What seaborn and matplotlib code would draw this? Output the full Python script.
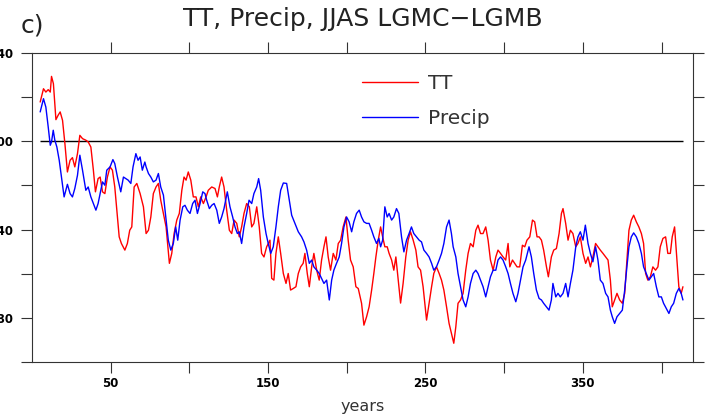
import matplotlib
matplotlib.use("Agg")
import matplotlib.pyplot as plt
import numpy as np
import pandas as pd
import seaborn as sns

# ---------------- data ----------------
years_tt = [5.2, 7.3, 8.8, 10.3, 11.6, 12.4, 13.6, 15.2, 16.6, 17.9,
            19.4, 20.9, 22.5, 24.2, 25.7, 27.2, 28.9, 30.4, 32.1, 34.2,
            35.7, 37.4, 39.0, 40.3, 42.0, 43.3, 44.8, 46.3, 47.9, 49.6,
            51.1, 52.6, 53.9, 55.4, 56.8, 59.0, 60.6, 62.1, 63.4, 64.9,
            66.6, 68.7, 70.8, 72.5, 74.0, 75.5, 77.1, 78.8, 80.3, 81.8,
            83.5, 85.2, 87.3, 88.8, 90.3, 92.0, 93.6, 95.2, 96.6, 97.9,
            99.3, 100.9, 102.5, 104.2, 105.7, 107.2, 108.9, 110.6, 112.0, 114.2,
            116.3, 117.8, 119.0, 120.5, 122.0, 123.7, 125.4, 126.9, 128.4, 130.1,
            131.7, 133.2, 134.7, 136.4, 138.1, 139.6, 141.0, 142.8, 144.4, 145.9,
            147.4, 149.1, 151.2, 152.3, 153.7, 155.0, 156.5, 158.0, 159.7, 161.4,
            162.8, 164.3, 166.0, 167.7, 169.2, 170.7, 172.3, 173.4, 174.9, 176.2,
            177.7, 179.1, 180.9, 182.5, 184.0, 185.5, 186.8, 188.2, 189.7, 191.4,
            193.1, 194.6, 196.1, 197.7, 199.5, 200.9, 202.4, 204.1, 205.8, 207.3,
            209.4, 210.9, 212.6, 214.2, 215.8, 217.2, 218.5, 220.0, 221.5, 222.8,
            224.2, 225.7, 226.9, 228.5, 229.9, 231.2, 232.7, 234.2, 235.8, 237.5,
            239.0, 240.5, 242.2, 243.9, 245.3, 246.9, 248.5, 250.7, 252.3, 253.9,
            255.3, 257.0, 258.7, 260.2, 261.7, 263.4, 265.0, 266.5, 268.0, 269.3,
            270.7, 272.3, 273.9, 275.6, 277.1, 278.6, 280.3, 282.0, 283.4, 285.0,
            286.6, 288.3, 289.8, 291.3, 293.0, 294.7, 296.1, 297.7, 299.3, 301.0,
            302.5, 303.6, 305.3, 306.7, 308.2, 309.9, 311.6, 313.1, 314.5, 316.3,
            318.0, 319.4, 320.9, 322.2, 323.7, 325.1, 326.9, 328.1, 330.0, 331.5,
            333.2, 334.9, 336.4, 337.4, 339.1, 340.6, 342.1, 343.7, 345.5, 346.9,
            348.4, 350.1, 351.8, 353.3, 354.8, 356.4, 358.1, 359.6, 361.1, 362.8,
            364.5, 366.0, 367.5, 368.7, 370.2, 371.7, 373.4, 375.1, 376.6, 378.0,
            379.3, 380.8, 382.3, 384.0, 385.6, 387.2, 388.6, 389.9, 391.3, 392.9,
            394.5, 396.2, 397.7, 399.2, 400.9, 402.6, 404.0, 405.6, 406.8, 408.3,
            409.8, 411.0, 412.5, 413.6]
tt = [0.178, 0.238, 0.223, 0.234, 0.223, 0.294, 0.261, 0.098, 0.118, 0.133,
      0.095, -0.010, -0.139, -0.086, -0.074, -0.116, -0.056, 0.027, 0.012, 0.005,
      -0.003, -0.026, -0.131, -0.229, -0.169, -0.162, -0.229, -0.237, -0.162, -0.116,
      -0.131, -0.207, -0.312, -0.433, -0.463, -0.493, -0.463, -0.403, -0.388, -0.207,
      -0.191, -0.237, -0.297, -0.418, -0.403, -0.343, -0.237, -0.207, -0.191, -0.267,
      -0.327, -0.388, -0.553, -0.508, -0.418, -0.357, -0.327, -0.222, -0.162, -0.176,
      -0.139, -0.176, -0.252, -0.252, -0.297, -0.252, -0.282, -0.252, -0.222, -0.207,
      -0.214, -0.252, -0.207, -0.162, -0.207, -0.312, -0.403, -0.418, -0.357, -0.372,
      -0.433, -0.388, -0.327, -0.282, -0.297, -0.388, -0.372, -0.297, -0.388, -0.508,
      -0.524, -0.478, -0.448, -0.621, -0.629, -0.508, -0.433, -0.508, -0.599, -0.644,
      -0.599, -0.674, -0.667, -0.659, -0.599, -0.569, -0.553, -0.508, -0.599, -0.659,
      -0.569, -0.508, -0.584, -0.629, -0.538, -0.478, -0.433, -0.524, -0.584, -0.508,
      -0.538, -0.463, -0.448, -0.388, -0.343, -0.448, -0.538, -0.569, -0.659, -0.667,
      -0.734, -0.833, -0.795, -0.750, -0.674, -0.599, -0.524, -0.448, -0.388, -0.433,
      -0.478, -0.478, -0.508, -0.538, -0.584, -0.524, -0.629, -0.733, -0.644, -0.524,
      -0.448, -0.410, -0.448, -0.493, -0.569, -0.584, -0.659, -0.810, -0.734, -0.659,
      -0.599, -0.569, -0.599, -0.629, -0.674, -0.750, -0.825, -0.870, -0.915, -0.840,
      -0.734, -0.719, -0.689, -0.584, -0.508, -0.463, -0.478, -0.403, -0.380, -0.418,
      -0.418, -0.388, -0.448, -0.538, -0.584, -0.524, -0.493, -0.508, -0.524, -0.538,
      -0.463, -0.569, -0.538, -0.553, -0.569, -0.569, -0.471, -0.478, -0.448, -0.433,
      -0.357, -0.365, -0.433, -0.433, -0.448, -0.493, -0.569, -0.614, -0.524, -0.493,
      -0.486, -0.418, -0.327, -0.305, -0.372, -0.448, -0.403, -0.418, -0.478, -0.463,
      -0.433, -0.508, -0.553, -0.524, -0.569, -0.524, -0.463, -0.478, -0.493, -0.508,
      -0.524, -0.538, -0.629, -0.750, -0.719, -0.689, -0.719, -0.734, -0.689, -0.538,
      -0.403, -0.357, -0.335, -0.365, -0.388, -0.418, -0.463, -0.599, -0.629, -0.614,
      -0.569, -0.584, -0.569, -0.478, -0.440, -0.433, -0.508, -0.508, -0.433, -0.388,
      -0.538, -0.659, -0.689, -0.659]

years_pr = [5.2, 7.3, 8.8, 10.3, 11.6, 12.4, 13.5, 14.5, 15.8, 17.3,
            18.7, 20.4, 22.5, 24.2, 25.7, 27.2, 28.9, 30.4, 32.1, 34.2,
            35.7, 37.4, 39.0, 40.6, 42.0, 43.7, 44.8, 46.3, 47.5, 49.6,
            51.4, 52.6, 54.3, 56.4, 58.1, 59.6, 61.1, 62.8, 64.2, 66.0,
            67.4, 68.7, 70.1, 71.7, 72.5, 74.0, 75.5, 77.1, 78.8, 80.3,
            81.8, 83.5, 85.2, 86.6, 88.2, 89.8, 91.3, 92.6, 94.1, 95.8,
            97.2, 98.7, 100.4, 102.1, 103.6, 105.1, 106.8, 108.5, 109.9, 111.0,
            112.7, 114.2, 115.7, 117.4, 119.0, 120.5, 122.0, 124.1, 125.8, 127.5,
            129.0, 130.5, 131.7, 133.2, 134.7, 136.4, 137.9, 139.6, 141.0, 142.8,
            144.0, 145.3, 147.0, 148.7, 150.1, 151.7, 153.3, 155.0, 156.5, 158.0,
            159.7, 161.8, 163.5, 165.0, 167.1, 169.2, 171.3, 172.8, 174.5, 176.2,
            177.7, 179.1, 180.9, 182.5, 184.0, 185.5, 187.2, 188.9, 190.4, 191.8,
            193.5, 195.2, 196.7, 198.2, 199.9, 201.5, 203.1, 204.5, 206.2, 207.9,
            209.4, 210.9, 212.6, 214.2, 215.8, 217.2, 218.9, 220.4, 221.5, 222.8,
            224.2, 225.7, 226.9, 228.5, 229.9, 231.6, 233.1, 234.8, 236.3, 238.0,
            239.6, 241.1, 242.6, 244.3, 246.0, 247.5, 249.0, 250.7, 252.3, 253.9,
            255.3, 257.0, 258.7, 260.2, 261.7, 263.4, 265.0, 266.5, 267.6, 269.3,
            270.7, 272.3, 273.9, 275.6, 277.1, 278.6, 280.3, 282.0, 283.4, 285.0,
            286.6, 288.3, 289.8, 291.3, 293.0, 294.7, 296.1, 297.7, 299.3, 301.0,
            302.5, 304.0, 305.6, 307.4, 308.8, 310.4, 312.0, 313.7, 315.8, 317.3,
            318.8, 320.5, 322.2, 323.7, 325.1, 326.9, 328.5, 330.0, 331.0, 332.8,
            334.2, 335.7, 337.4, 339.1, 340.6, 342.1, 343.7, 345.5, 346.9, 348.4,
            350.1, 351.6, 353.3, 354.8, 356.4, 358.1, 359.6, 361.1, 362.8, 364.5,
            366.0, 367.5, 368.7, 370.2, 371.7, 373.4, 375.1, 376.6, 378.0, 379.3,
            380.8, 382.3, 384.0, 385.6, 387.2, 388.6, 390.3, 392.0, 393.5, 395.0,
            396.7, 398.3, 399.9, 401.3, 403.0, 404.7, 406.2, 407.7, 409.4, 411.0,
            412.5, 413.6]
precip = [0.133, 0.193, 0.155, 0.065, -0.018, -0.003, 0.050, 0.005, -0.026, -0.086,
          -0.162, -0.252, -0.195, -0.237, -0.252, -0.214, -0.154, -0.063, -0.131, -0.222,
          -0.207, -0.252, -0.282, -0.312, -0.282, -0.222, -0.184, -0.199, -0.131, -0.116,
          -0.083, -0.101, -0.162, -0.229, -0.162, -0.169, -0.176, -0.191, -0.116, -0.056,
          -0.086, -0.071, -0.131, -0.094, -0.116, -0.146, -0.162, -0.184, -0.176, -0.146,
          -0.207, -0.244, -0.357, -0.448, -0.493, -0.463, -0.388, -0.448, -0.357, -0.297,
          -0.290, -0.312, -0.327, -0.282, -0.267, -0.327, -0.282, -0.229, -0.237, -0.267,
          -0.305, -0.290, -0.282, -0.312, -0.372, -0.343, -0.305, -0.229, -0.297, -0.343,
          -0.388, -0.418, -0.410, -0.463, -0.388, -0.327, -0.267, -0.282, -0.237, -0.207,
          -0.169, -0.222, -0.343, -0.418, -0.463, -0.508, -0.478, -0.388, -0.297, -0.222,
          -0.189, -0.191, -0.267, -0.335, -0.372, -0.410, -0.433, -0.456, -0.493, -0.553,
          -0.538, -0.569, -0.584, -0.599, -0.621, -0.644, -0.629, -0.719, -0.629, -0.584,
          -0.553, -0.524, -0.463, -0.388, -0.343, -0.365, -0.410, -0.365, -0.327, -0.312,
          -0.343, -0.365, -0.372, -0.372, -0.403, -0.433, -0.463, -0.440, -0.478, -0.448,
          -0.297, -0.343, -0.327, -0.357, -0.343, -0.305, -0.327, -0.433, -0.501, -0.448,
          -0.418, -0.388, -0.418, -0.433, -0.448, -0.456, -0.493, -0.508, -0.524, -0.553,
          -0.584, -0.569, -0.538, -0.508, -0.463, -0.388, -0.357, -0.418, -0.478, -0.524,
          -0.599, -0.659, -0.719, -0.750, -0.705, -0.644, -0.599, -0.584, -0.599, -0.629,
          -0.659, -0.705, -0.659, -0.614, -0.584, -0.584, -0.538, -0.524, -0.538, -0.569,
          -0.599, -0.644, -0.689, -0.727, -0.689, -0.629, -0.569, -0.538, -0.478, -0.524,
          -0.599, -0.674, -0.712, -0.719, -0.734, -0.750, -0.765, -0.719, -0.644, -0.705,
          -0.689, -0.705, -0.689, -0.644, -0.705, -0.644, -0.584, -0.478, -0.433, -0.410,
          -0.448, -0.380, -0.463, -0.508, -0.546, -0.478, -0.538, -0.629, -0.644, -0.689,
          -0.705, -0.765, -0.795, -0.825, -0.795, -0.780, -0.765, -0.674, -0.569, -0.478,
          -0.433, -0.415, -0.433, -0.463, -0.508, -0.569, -0.599, -0.629, -0.614, -0.599,
          -0.659, -0.705, -0.705, -0.734, -0.757, -0.780, -0.750, -0.734, -0.689, -0.667,
          -0.689, -0.719]

series_names = ["TT", "Precip"]
x_ticks = [50, 100, 150, 200, 250, 300, 350, 400]
x_tick_labels = ["50", "", "150", "", "250", "", "350", ""]
y_ticks = [-1.0, -0.8, -0.6, -0.4, -0.2, 0.0, 0.2, 0.4]
y_tick_labels = ["", "-0.80", "", "-0.40", "", "0.00", "", "0.40"]

# ---------------- figure ----------------
sns.set_style("ticks")
plt.rcParams["font.family"] = ["DejaVu Sans"]

W, H = 711, 419
fig = plt.figure(figsize=(W / 100, H / 100), dpi=100)
ax = fig.add_axes([32 / W, 1 - 362 / H, 661 / W, 309 / H])

df_tt = pd.DataFrame({"year": years_tt, "value": tt})
df_pr = pd.DataFrame({"year": years_pr, "value": precip})

sns.lineplot(data=df_tt, x="year", y="value", ax=ax, color="#ff0000", lw=1.0,
             label=series_names[0], estimator=None, sort=False)
sns.lineplot(data=df_pr, x="year", y="value", ax=ax, color="#0000ff", lw=1.0,
             label=series_names[1], estimator=None, sort=False)

ax.hlines(0, years_tt[0], years_tt[-1], color="black", lw=1.0, zorder=1)

ax.set_xlim(0, 420)
ax.set_ylim(-1.0, 0.4)
ax.set_xticks(x_ticks)
ax.set_xticklabels(x_tick_labels)
ax.set_yticks(y_ticks)
ax.set_yticklabels(y_tick_labels)
ax.tick_params(direction="out", length=8, width=0.8, color="#333333",
               top=True, right=True, labelsize=8.5, labelcolor="black")
ax.tick_params(axis="x", pad=3)
ax.tick_params(axis="y", pad=5.5)
for lbl in ax.get_xticklabels() + ax.get_yticklabels():
    lbl.set_fontweight("bold")
for sp in ax.spines.values():
    sp.set_color("#333333")
    sp.set_linewidth(0.8)

ax.set_ylabel("")
ax.set_xlabel("years", fontsize=11.5, color="#333333")
ax.xaxis.set_label_coords(0.5, (362 - 406) / 309)
ax.xaxis.label.set_verticalalignment("center")

ax.set_title("TT, Precip, JJAS LGMC\u2212LGMB", fontsize=18, color="#222222",
             y=(362 - 27) / 309, va="center")
fig.text(21 / W, 1 - 26 / H, "c)", fontsize=18, color="#222222", va="center", ha="left")

leg = ax.legend(loc="upper left", bbox_to_anchor=(362 / W, 1 - 74 / H),
                bbox_transform=fig.transFigure, frameon=False, fontsize=14.5,
                handlelength=2.8, handletextpad=0.5, labelspacing=0.8,
                borderpad=0, borderaxespad=0, labelcolor="#333333")

fig.savefig("out.png", dpi=100)
